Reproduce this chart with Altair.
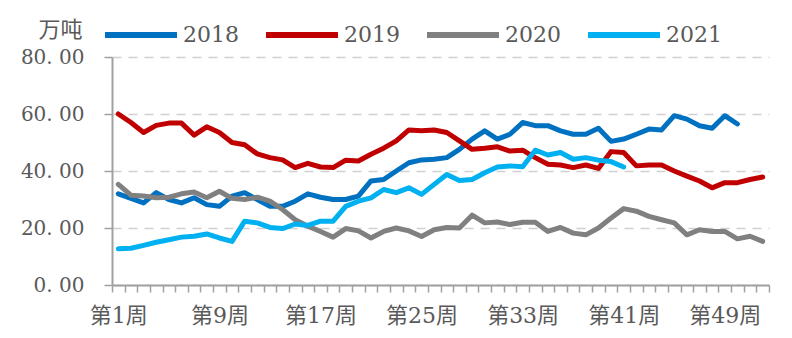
import altair as alt
import pandas as pd

years = ["2018", "2019", "2020", "2021"]
colors = ["#0070C0", "#C00000", "#808080", "#00B0F0"]

v2018 = [32, 30.4, 28.8, 32.4, 30, 28.8, 30.6, 28.2, 27.6, 31.2, 32.4, 30, 27.6, 27.6, 29.4, 32,
         30.8, 30, 30, 31.2, 36.5, 37, 40, 42.9, 43.9, 44.1, 44.7, 47.6, 51.2, 54.1, 51.2, 52.9,
         57, 55.9, 55.9, 54.1, 52.9, 52.9, 55, 50.4, 51.2, 52.9, 54.7, 54.4, 59.4, 58.2, 55.9, 55,
         59.4, 56.5]
v2019 = [60, 57, 53.5, 56, 56.8, 56.8, 52.6, 55.5, 53.5, 50, 49.2, 46, 44.7, 43.9, 41.2, 42.7,
         41.4, 41.2, 43.8, 43.5, 45.9, 48, 50.6, 54.4, 54.1, 54.4, 53.5, 50.6, 47.6, 48, 48.5, 47,
         47.3, 44.7, 42.4, 42.1, 41.2, 42.1, 40.9, 46.8, 46.5, 41.8, 42.1, 42.1, 40, 38.2, 36.5, 34.1,
         35.9, 35.9, 37, 37.9]
v2020 = [35.3, 31.5, 31.2, 30.6, 30.8, 32, 32.6, 30.6, 32.9, 30.4, 30, 30.8, 29.4, 26.5, 22.9, 20.6,
         18.8, 16.8, 19.8, 19, 16.5, 18.8, 20, 19, 17, 19.4, 20.2, 20, 24.5, 21.8, 22.1, 21.2,
         22, 22, 18.8, 20.2, 18.2, 17.6, 20, 23.5, 26.8, 25.9, 24.1, 22.9, 21.8, 17.6, 19.4, 18.8,
         18.8, 16.2, 17.1, 15.3]
v2021 = [12.7, 12.9, 13.9, 15, 15.9, 16.8, 17.1, 17.9, 16.5, 15.3, 22.4, 21.8, 20.2, 19.8, 21.4, 20.9,
         22.4, 22.4, 27.6, 29.4, 30.6, 33.5, 32.4, 34.1, 31.8, 35.3, 38.8, 36.7, 37, 39.4, 41.4, 41.8,
         41.5, 47.3, 45.6, 46.5, 44.1, 44.7, 43.8, 43.3, 41.4]

weeks = list(range(1, 53))
label_weeks = [1, 9, 17, 25, 33, 41, 49]
y_ticks = [0, 20, 40, 60, 80]

rows = []
for yr, vals in zip(years, [v2018, v2019, v2020, v2021]):
    for i, v in enumerate(vals):
        rows.append({"year": yr, "week": i + 1, "value": v})
df = pd.DataFrame(rows)

FONT = "DejaVu Serif, Noto Sans CJK SC"
TXT = "#595959"

label_expr = ("indexof([" + ",".join(str(w) for w in label_weeks) +
              "], datum.value) >= 0 ? '第' + datum.value + '周' : ''")

chart = alt.Chart(df).mark_line(strokeWidth=5, strokeCap="round", strokeJoin="round").encode(
    x=alt.X("week:O",
            scale=alt.Scale(type="band", domain=weeks, paddingInner=0, paddingOuter=0),
            bandPosition=0.5,
            axis=alt.Axis(title=None, labelExpr=label_expr, labelOverlap=False, labelAngle=0,
                          tickBand="extent", tickSize=7, tickWidth=1.5, tickColor="#A0A0A0",
                          domainColor="#A0A0A0", domainWidth=2, grid=False,
                          labelFont=FONT, labelFontSize=22, labelColor=TXT, labelPadding=13,
                          labelBaseline="top")),
    y=alt.Y("value:Q",
            scale=alt.Scale(domain=[0, 80], nice=False),
            axis=alt.Axis(values=y_ticks, format=".2f",
                          labelExpr="replace(datum.label, '.', '. ')",
                          title="万吨", titleAngle=0,
                          titleX=-52, titleY=-28, titleAlign="center", titleBaseline="middle",
                          titleFont=FONT, titleFontSize=22, titleFontWeight="normal", titleColor=TXT,
                          labelFont=FONT, labelFontSize=20, labelColor=TXT, labelPadding=20,
                          tickSize=8, tickWidth=1.5, tickColor="#A0A0A0",
                          domainColor="#A0A0A0", domainWidth=2,
                          grid=True, gridDash=[9, 7], gridColor="#D0D0D0", gridWidth=1.5)),
    color=alt.Color("year:N",
                    scale=alt.Scale(domain=years, range=colors),
                    legend=alt.Legend(orient="none", direction="horizontal", legendX=-10, legendY=-61,
                                      title=None, symbolType="stroke", symbolSize=5184,
                                      symbolStrokeWidth=6, labelFont=FONT, labelFontSize=22,
                                      labelColor=TXT, columnPadding=15, labelOffset=3, padding=0)),
    order=alt.Order("week:Q"),
).properties(
    width=657, height=228,
    autosize=alt.AutoSizeParams(type="none"),
    padding={"left": 112, "top": 57, "right": 23, "bottom": 53},
    background="white",
).configure_view(stroke=None)

chart.save("out.html", embed_options={"renderer": "svg", "actions": False})
